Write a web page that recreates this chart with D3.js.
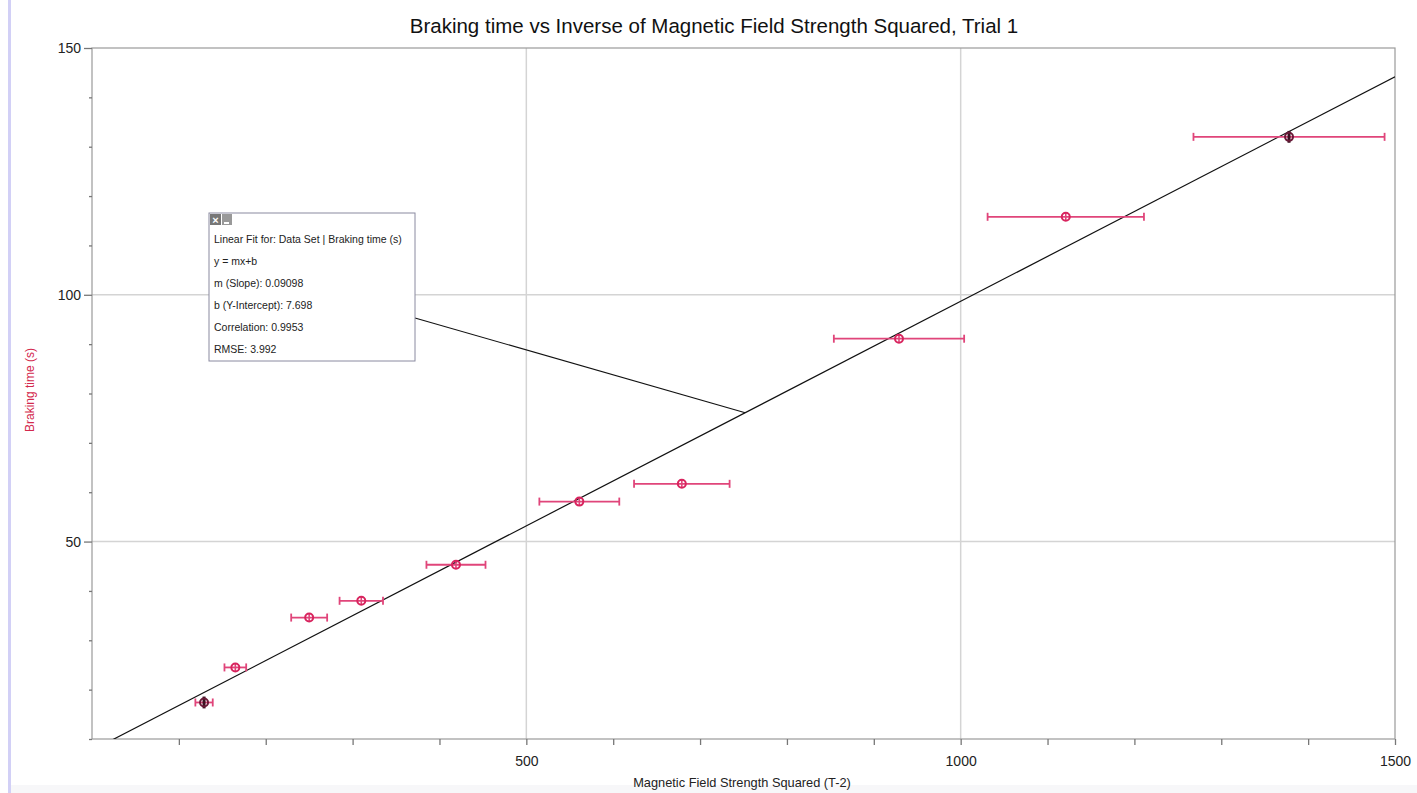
<!DOCTYPE html>
<html>
<head>
<meta charset="utf-8">
<script src="https://cdn.jsdelivr.net/npm/d3@7"></script>
<style>
  body { margin: 0; background: #fff; font-family: "Liberation Sans", Arial, sans-serif; }
  #chart { position: relative; }
</style>
</head>
<body>
<div id="chart"></div>
<script>
// data
var fieldSq   = [129, 165, 250, 310, 419, 561, 679, 929, 1121, 1378];
var brakeTime = [17.4, 24.5, 34.6, 38.0, 45.3, 58.1, 61.7, 91.1, 115.8, 132.0];
var fieldErr  = [10, 12.5, 20.7, 25, 34, 46, 55, 75, 90, 110];
var timeErr   = [1.2, 0.8, 0.8, 0.8, 0.8, 0.8, 0.8, 0.8, 0.8, 1.2];
var darkMark  = [true, false, false, false, false, false, false, false, false, true];
var xMajor = [500, 1000, 1500];
var yMajor = [50, 100, 150];
var fitSlope = 0.09098, fitIntercept = 7.698;
var fitLines = ["Linear Fit for: Data Set | Braking time (s)", "y = mx+b",
  "m (Slope): 0.09098", "b (Y-Intercept): 7.698", "Correlation: 0.9953", "RMSE: 3.992"];
var calloutX = 752;

var W = 1417, H = 793;
var margin = {top: 48, right: 22, bottom: 54, left: 92};
var pink = "#e0457a";

var svg = d3.select('#chart').append('svg')
    .attr('width', W).attr('height', H);

svg.append('rect').attr('x', 8).attr('y', 0).attr('width', 3).attr('height', H).attr('fill', '#d2d0f6');
svg.append('rect').attr('x', 11).attr('y', 785).attr('width', W).attr('height', 8).attr('fill', '#f7f7f9');

var xScale = d3.scaleLinear().domain([0, 1500]).range([margin.left, W - margin.right]);
var yScale = d3.scaleLinear().domain([10, 150]).range([H - margin.bottom, margin.top]);

var x0 = xScale.range()[0], x1 = xScale.range()[1];
var y0 = yScale.range()[0], y1 = yScale.range()[1];

// grid
svg.append('g').selectAll('line').data(xMajor.slice(0, 2)).enter().append('line')
    .attr('x1', xScale).attr('x2', xScale).attr('y1', y0).attr('y2', y1)
    .attr('stroke', '#d4d4d4').attr('stroke-width', 1.5);
svg.append('g').selectAll('line').data(yMajor.slice(0, 2)).enter().append('line')
    .attr('y1', yScale).attr('y2', yScale).attr('x1', x0).attr('x2', x1)
    .attr('stroke', '#d4d4d4').attr('stroke-width', 1.5);

// frame
svg.append('rect').attr('x', x0).attr('y', y1).attr('width', x1 - x0).attr('height', y0 - y1)
    .attr('fill', 'none').attr('stroke', '#9a9a9a').attr('stroke-width', 1.2);

// axes
var xAxis = svg.append('g').attr('transform', 'translate(0,' + y0 + ')')
    .call(d3.axisBottom(xScale).tickValues(d3.range(100, 1501, 100)).tickSize(6)
      .tickFormat(function(d) { return xMajor.indexOf(d) >= 0 ? d : ''; }));
var yAxis = svg.append('g').attr('transform', 'translate(' + x0 + ',0)')
    .call(d3.axisLeft(yScale).tickValues(d3.range(10, 151, 10)).tickSize(3)
      .tickFormat(function(d) { return yMajor.indexOf(d) >= 0 ? d : ''; }));
[xAxis, yAxis].forEach(function(a) {
  a.select('.domain').remove();
  a.selectAll('line').attr('stroke', '#777').attr('stroke-width', 1.3);
  a.selectAll('text').attr('fill', '#222').style('font-size', '14px')
    .style('font-family', '"Liberation Sans", Arial, sans-serif');
});
xAxis.selectAll('text').attr('dy', '1.3em');
yAxis.selectAll('.tick').filter(function(d) { return yMajor.indexOf(d) >= 0; })
    .select('line').attr('x2', -8);
yAxis.selectAll('text').attr('x', -11);

// labels
svg.append('text').attr('x', 714).attr('y', 33).attr('text-anchor', 'middle')
    .style('font-size', '20.5px').attr('fill', '#111').text('Braking time vs Inverse of Magnetic Field Strength Squared,  Trial 1');
svg.append('text').attr('x', 742).attr('y', 787).attr('text-anchor', 'middle')
    .style('font-size', '12.8px').attr('fill', '#222').text('Magnetic Field Strength Squared (T-2)');
svg.append('text').attr('transform', 'translate(34,390) rotate(-90)').attr('text-anchor', 'middle')
    .style('font-size', '12px').attr('fill', '#d3294d').text('Braking time (s)');

var clip = svg.append('clipPath').attr('id', 'plotclip').append('rect')
    .attr('x', x0).attr('y', y1).attr('width', x1 - x0).attr('height', y0 - y1);
var plot = svg.append('g').attr('clip-path', 'url(#plotclip)');

// fit line
var fit = function(x) { return fitSlope * x + fitIntercept; };
var line = d3.line().x(function(d) { return xScale(d); }).y(function(d) { return yScale(fit(d)); });
plot.append('path').attr('d', line([0, 1500])).attr('stroke', '#111').attr('stroke-width', 1.2).attr('fill', 'none');

// points
var pts = fieldSq.map(function(x, i) {
  return {x: x, y: brakeTime[i], ex: fieldErr[i], ey: timeErr[i], dark: darkMark[i]};
});
var g = plot.append('g').selectAll('g').data(pts).enter().append('g');
g.append('line').attr('x1', function(d) { return xScale(d.x - d.ex); })
  .attr('x2', function(d) { return xScale(d.x + d.ex); })
  .attr('y1', function(d) { return yScale(d.y); }).attr('y2', function(d) { return yScale(d.y); })
  .attr('stroke', pink).attr('stroke-width', 1.8);
[0, 1].forEach(function(j) {
  g.append('line')
    .attr('x1', function(d) { return xScale(j ? d.x + d.ex : d.x - d.ex); })
    .attr('x2', function(d) { return xScale(j ? d.x + d.ex : d.x - d.ex); })
    .attr('y1', function(d) { return yScale(d.y) - 4; }).attr('y2', function(d) { return yScale(d.y) + 4; })
    .attr('stroke', pink).attr('stroke-width', 1.8);
});
g.append('line').attr('x1', function(d) { return xScale(d.x); }).attr('x2', function(d) { return xScale(d.x); })
  .attr('y1', function(d) { return yScale(d.y + d.ey); }).attr('y2', function(d) { return yScale(d.y - d.ey); })
  .attr('stroke', function(d) { return d.dark ? '#3a1020' : pink; })
  .attr('stroke-width', function(d) { return d.dark ? 3 : 1.6; });
g.append('circle').attr('cx', function(d) { return xScale(d.x); }).attr('cy', function(d) { return yScale(d.y); })
  .attr('r', 4).attr('fill', 'none')
  .attr('stroke', function(d) { return d.dark ? '#6a1a38' : '#d8245e'; }).attr('stroke-width', 2);

// fit box and callout
var bx = 209, by = 213, bw = 206, bh = 148;
svg.append('line').attr('x1', bx + bw).attr('y1', 318)
  .attr('x2', xScale(calloutX)).attr('y2', yScale(fit(calloutX)))
  .attr('stroke', '#111').attr('stroke-width', 1.1);
svg.append('rect').attr('x', bx).attr('y', by).attr('width', bw).attr('height', bh)
  .attr('fill', '#fff').attr('stroke', '#8a8aa0').attr('stroke-width', 1);
svg.append('rect').attr('x', bx + 1).attr('y', by + 1).attr('width', 11).attr('height', 11).attr('fill', '#777');
svg.append('rect').attr('x', bx + 13).attr('y', by + 1).attr('width', 10).attr('height', 11).attr('fill', '#999');
svg.append('text').attr('x', bx + 6.5).attr('y', by + 10.5).attr('text-anchor', 'middle')
  .style('font-size', '11px').style('font-weight', 'bold').attr('fill', '#fff').text('×');
svg.append('rect').attr('x', bx + 15).attr('y', by + 9).attr('width', 5).attr('height', 2).attr('fill', '#fff');
svg.append('g').selectAll('text').data(fitLines).enter().append('text')
  .attr('x', bx + 5).attr('y', function(d, i) { return by + 30 + i * 22; })
  .style('font-size', '10.5px').attr('fill', '#222').text(function(d) { return d; });
</script>
</body>
</html>
